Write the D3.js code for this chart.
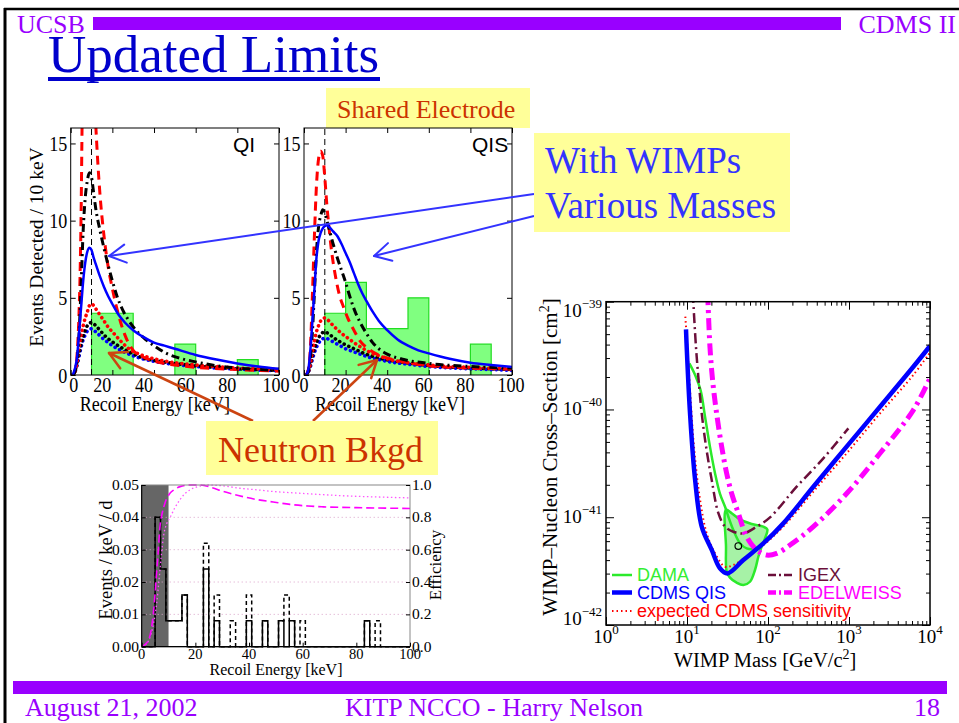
<!DOCTYPE html>
<html><head><meta charset="utf-8">
<script src="https://cdn.jsdelivr.net/npm/d3@7"></script>
<style>
body{margin:0;background:#fff}
svg{display:block}
text{font-family:"Liberation Serif","Times New Roman",serif}
.sans{font-family:"Liberation Sans",Arial,sans-serif}
</style>
</head><body><svg id="c" width="959" height="723"></svg>
<script>
// ================= DATA =================
// Spectrum plots (QI, QIS)
const energyTicks = [0, 20, 40, 60, 80, 100];
const eventTicks = [0, 5, 10, 15];
const histBinWidth = 10;
const qiHistLo = [10, 20, 50, 80];
const qiHistCounts = [4, 4, 2, 1];
const qisHistLo = [10, 20, 30, 40, 50, 80];
const qisHistCounts = [4, 6, 3, 3, 5, 2];

const qiRedDashed = [[1,0],[2,0.2],[3,1.2],[4,4.0],[4.5,6.5],[5,10.5],[5.5,16.5],[6,20],[7,24],[8,26],[9,25.5],[10,23],[11,19.5],[12,16.3],[13,13.8],[14,11.8],[16,9],[18,7],[20,5.6],[22,4.4],[24,3.4],[26,2.6],[30,1.6],[35,1.15],[40,0.9],[50,0.65],[60,0.5],[80,0.35],[100,0.25]];
const qiBlackDashDot = [[1,0],[2,0.2],[3,0.8],[4,2.6],[5,5.8],[6,9.4],[7,11.5],[8,12.6],[9,13.1],[10,12.8],[11,11.8],[12,10.8],[14,9.4],[16,8.2],[18,7.1],[20,6.1],[22,5.2],[25,4.2],[28,3.5],[32,2.8],[36,2.3],[40,1.9],[46,1.4],[52,1.1],[60,0.85],[70,0.6],[80,0.45],[90,0.36],[100,0.3]];
const qiBlueSolid = [[1,0],[2,0.4],[3,1.1],[4,2.7],[5,4.4],[6,6.1],[7,7.3],[8,8.0],[9,8.25],[10,8.1],[11,7.6],[12,7.2],[14,6.4],[16,5.7],[18,5.1],[20,4.6],[23,3.9],[26,3.4],[30,2.9],[35,2.45],[40,2.1],[45,1.9],[50,1.7],[60,1.3],[70,1.0],[80,0.75],[90,0.55],[100,0.4]];
const qiRedDotted = [[1,0],[2,0.2],[3,0.8],[4,1.8],[5,2.6],[6,3.2],[7,3.7],[8,4.1],[9,4.5],[10,4.6],[11,4.5],[12,4.3],[14,3.9],[16,3.5],[18,3.1],[20,2.8],[24,2.2],[28,1.7],[32,1.4],[36,1.2],[40,1.05],[50,0.8],[60,0.65],[70,0.55],[80,0.45],[90,0.4],[100,0.35]];
const qiBlackDotted = [[1,0],[2,0.2],[3,0.7],[4,1.4],[5,2.0],[6,2.5],[7,2.9],[8,3.2],[9,3.35],[10,3.4],[12,3.2],[14,2.9],[16,2.6],[18,2.35],[20,2.15],[24,1.8],[28,1.5],[32,1.25],[36,1.05],[40,0.95],[50,0.75],[60,0.6],[70,0.5],[80,0.4],[90,0.35],[100,0.3]];
const qiBlueDotted = [[1,0],[2,0.2],[3,0.6],[4,1.2],[5,1.8],[6,2.3],[7,2.6],[8,2.85],[9,2.95],[10,3.0],[12,2.8],[14,2.55],[16,2.3],[18,2.1],[20,1.9],[24,1.6],[28,1.35],[32,1.15],[36,1.0],[40,0.88],[50,0.68],[60,0.55],[70,0.45],[80,0.38],[90,0.32],[100,0.28]];

const qisRedDashed = [[1,0],[2,0.3],[3,1.6],[4,5.0],[5,9.0],[6,12.3],[7,14.0],[8,14.5],[9,14.2],[10,12.8],[11,11.0],[12,9.6],[13,8.3],[14,7.3],[15,6.5],[17,5.2],[19,4.4],[21,3.7],[24,2.9],[27,2.2],[30,1.8],[35,1.35],[40,1.1],[50,0.8],[60,0.6],[80,0.45],[100,0.38]];
const qisBlackDashDot = [[1,0],[2,0.2],[3,1.0],[4,2.7],[5,5.3],[6,8.0],[7,9.6],[8,10.3],[9,10.7],[10,10.5],[11,10.0],[12,9.5],[14,8.5],[16,7.6],[18,6.8],[20,6.0],[22,5.1],[24,4.3],[27,3.4],[30,2.7],[33,2.1],[36,1.7],[40,1.35],[48,1.0],[60,0.75],[80,0.55],[100,0.45]];
const qisBlueSolid = [[1,0],[2,0.3],[3,1.5],[4,3.4],[5,5.5],[6,7.6],[7,8.7],[8,9.2],[9,9.5],[10,9.65],[11,9.7],[12,9.6],[14,9.3],[16,9.0],[18,8.5],[20,7.9],[22,7.3],[24,6.6],[26,5.9],[28,5.3],[30,4.8],[33,4.1],[36,3.5],[40,2.9],[45,2.3],[50,1.9],[55,1.6],[60,1.4],[70,1.05],[80,0.8],[90,0.65],[100,0.52]];
const qisRedDotted = [[1,0],[2,0.2],[3,0.7],[4,1.5],[5,2.2],[6,2.8],[7,3.2],[8,3.5],[9,3.65],[10,3.7],[12,3.5],[14,3.2],[16,2.95],[18,2.7],[20,2.5],[24,2.1],[28,1.75],[32,1.45],[36,1.25],[40,1.05],[50,0.8],[60,0.65],[70,0.55],[80,0.5],[90,0.45],[100,0.42]];
const qisBlackDotted = [[1,0],[2,0.2],[3,0.6],[4,1.2],[5,1.7],[6,2.1],[7,2.4],[8,2.6],[9,2.75],[10,2.8],[12,2.65],[14,2.45],[16,2.25],[18,2.1],[20,1.95],[24,1.7],[28,1.45],[32,1.25],[36,1.1],[40,0.98],[50,0.78],[60,0.62],[70,0.52],[80,0.45],[90,0.4],[100,0.36]];
const qisBlueDotted = [[1,0],[2,0.2],[3,0.5],[4,1.0],[5,1.45],[6,1.8],[7,2.05],[8,2.25],[9,2.35],[10,2.4],[12,2.3],[14,2.15],[16,2.0],[18,1.85],[20,1.7],[24,1.5],[28,1.3],[32,1.12],[36,1.0],[40,0.88],[50,0.7],[60,0.55],[70,0.46],[80,0.4],[90,0.35],[100,0.3]];

// Neutron background histogram plot
const nbBinWidth = 2;
const nbSolidLo = [5, 7, 9, 11, 13, 15, 23, 27, 39, 45, 51, 55, 83];
const nbSolidRate = [0.040, 0.024, 0.008, 0.008, 0.008, 0.016, 0.024, 0.008, 0.008, 0.008, 0.008, 0.008, 0.008];
const nbDashedLo = [23, 27, 33, 39, 53, 59, 87];
const nbDashedRate = [0.032, 0.016, 0.008, 0.016, 0.016, 0.008, 0.008];
const effDashed = [[0,0],[1,0.01],[2.5,0.04],[3.5,0.1],[4.3,0.2],[5,0.33],[5.6,0.47],[6.2,0.6],[6.8,0.74],[7.7,0.83],[8.7,0.89],[10.6,0.95],[12,0.97],[14.3,0.99],[18,1.0],[21.7,1.0],[26,0.985],[30.4,0.96],[36,0.935],[42.9,0.91],[49,0.895],[55.3,0.88],[62,0.87],[67.7,0.865],[80,0.86],[100,0.855]];
const effDotted = [[0,0],[1.9,0.02],[3.5,0.08],[4.5,0.15],[5.6,0.27],[6.5,0.42],[7.3,0.56],[8.1,0.68],[9.3,0.76],[10.6,0.8],[12.4,0.86],[14.3,0.91],[16,0.945],[18,0.97],[21,0.99],[24.2,1.0],[30,0.995],[36.6,0.98],[43,0.97],[49,0.96],[58,0.95],[67.7,0.94],[80,0.93],[90,0.925],[100,0.92]];
const cutEnergy = 10;
const rateTicks = [0, 0.01, 0.02, 0.03, 0.04, 0.05];
const effTicks = [0, 0.2, 0.4, 0.6, 0.8, 1.0];

// Limit plot (mass GeV, cross-section cm^2)
const massDecades = [0, 1, 2, 3, 4];
const sigmaDecades = [-42, -41, -40, -39];
const cdmsQIS = [[9.72,5.53e-40],[9.91,3.82e-40],[10.9,9.2e-41],[12.6,2.21e-41],[15.2,8.2e-42],[20.2,4.97e-42],[25.5,3.36e-42],[31.5,3.01e-42],[49.6,4.01e-42],[87.5,5.71e-42],[154.6,8.77e-42],[363,1.92e-41],[935,4.52e-41],[2415,1.06e-40],[6225,2.49e-40],[10000,3.88e-40]];
const expectedCDMS = [[9.53,7.26e-40],[10.1,3.82e-40],[10.9,1.51e-40],[12.2,4.52e-41],[14.5,1.45e-41],[17.5,7.08e-42],[22.2,4.62e-42],[29.5,3.47e-42],[37.3,3.6e-42],[54.5,4.3e-42],[87.5,5.52e-42],[154.6,8.2e-42],[363,1.73e-41],[935,3.92e-41],[2415,9.2e-41],[6225,2.09e-40],[10000,3.37e-40]];
const damaLine = [[10.7,2.68e-40],[12.6,2.09e-40],[14.7,1.51e-40],[16.7,8.57e-41],[19.2,4.52e-41],[22.2,2.55e-41],[25.5,1.66e-41],[29.5,1.25e-41],[32.4,1.01e-41],[37.3,7.61e-42],[45.1,5.73e-42],[54.5,5.14e-42],[72.4,5.14e-42],[87.5,5.64e-42]];
const damaRegion = [[30.3,1.17e-41],[35.6,1.09e-41],[45.1,9.55e-42],[62.8,8.65e-42],[87.5,8.17e-42],[98.1,7.71e-42],[91.8,6.37e-42],[83.5,5.33e-42],[76.0,4.30e-42],[69.1,3.24e-42],[59.9,2.52e-42],[49.6,2.35e-42],[41.0,2.47e-42],[33.9,2.75e-42],[30.9,3.13e-42],[30.3,5.33e-42]];
const igex = [[11.8,1.2e-39],[12.9,3.82e-40],[13.8,2.01e-40],[15.2,9.2e-41],[17.2,4.52e-41],[20.2,2.21e-41],[24.4,1.09e-41],[29.5,8.17e-42],[37.3,7.34e-42],[49.6,7.08e-42],[72.4,8.17e-42],[105.9,9.97e-42],[226,1.92e-41],[482,3.52e-41],[982,6.68e-41]];
const edelweiss = [[18.0,1.2e-39],[19.2,3.82e-40],[20.7,1.87e-40],[23.2,9.2e-41],[26.8,4.52e-41],[30.9,2.55e-41],[35.6,1.66e-41],[43.0,1.09e-41],[54.5,6.59e-42],[72.4,4.97e-42],[96.3,4.46e-42],[128,4.62e-42],[187,5.52e-42],[363,8.17e-42],[935,1.66e-41],[2415,3.92e-41],[6225,9.88e-41],[10000,1.95e-40]];
const damaBest = [[43.0, 5.4e-42]];
const legendLeft = ["DAMA", "CDMS QIS", "expected CDMS sensitivity"];
const legendRight = ["IGEX", "EDELWEISS"];

// ================= DRAWING =================
const svg = d3.select("#c");
const PURPLE = "#9900ff", YELLOW = "#ffff99", ORANGE = "#cc3300";

function squish(sel, k) {
  sel.each(function () {
    const L = this.getComputedTextLength();
    d3.select(this).attr("textLength", L * k).attr("lengthAdjust", "spacingAndGlyphs");
  });
}

// slide frame
svg.append("line").attr("x1", 4).attr("x2", 959).attr("y1", 9).attr("y2", 9).attr("stroke", "#000").attr("stroke-width", 2.5);
svg.append("line").attr("x1", 5).attr("x2", 5).attr("y1", 8).attr("y2", 723).attr("stroke", "#000").attr("stroke-width", 3);
svg.append("text").attr("x", 17).attr("y", 33).attr("font-size", 26).attr("fill", PURPLE).text("UCSB");
svg.append("rect").attr("x", 93).attr("y", 17).attr("width", 748).attr("height", 13).attr("fill", PURPLE);
svg.append("text").attr("x", 956).attr("y", 33).attr("font-size", 26).attr("fill", PURPLE).attr("text-anchor", "end").text("CDMS II");
svg.append("text").attr("x", 48).attr("y", 72).attr("font-size", 53).attr("fill", "#0000cc").text("Updated Limits");
svg.append("rect").attr("x", 48).attr("y", 77).attr("width", 332).attr("height", 4).attr("fill", "#0000cc");

// Shared electrode label (behind QIS plot)
svg.append("rect").attr("x", 326).attr("y", 88).attr("width", 204).attr("height", 40).attr("fill", YELLOW);
svg.append("text").attr("x", 337).attr("y", 118).attr("font-size", 26).attr("fill", ORANGE).text("Shared Electrode");

// ---------- spectrum plots ----------
const evY = d3.scaleLinear().domain([0, 16]).range([375, 128]);
const curveStyles = [
  { color: "#ff0000", w: 3, dash: "9,6", cap: "butt" },
  { color: "#000000", w: 3, dash: "8,4,2,4", cap: "butt" },
  { color: "#0000ff", w: 2.5, dash: null, cap: "butt" },
  { color: "#ff0000", w: 3.6, dash: "0.1,5", cap: "round" },
  { color: "#000000", w: 3.6, dash: "0.1,5", cap: "round" },
  { color: "#0000ff", w: 3.6, dash: "0.1,5", cap: "round" }
];
function spectrumPlot(id, x0, x1, curves, hLo, hCounts, name, nameX, labelShift) {
  const x = d3.scaleLinear().domain([0, 100]).range([x0, x1]);
  const g = svg.append("g");
  g.append("rect").attr("x", x0).attr("y", 128).attr("width", x1 - x0).attr("height", 247).attr("fill", "#fff");
  g.append("clipPath").attr("id", id).append("rect").attr("x", x0).attr("y", 128).attr("width", x1 - x0).attr("height", 247);
  // histogram
  const p = d3.path();
  hLo.forEach((lo, i) => {
    if (i === 0 || lo !== hLo[i - 1] + histBinWidth) {
      if (i > 0) p.lineTo(x(hLo[i - 1] + histBinWidth), evY(0));
      p.moveTo(x(lo), evY(0));
    }
    p.lineTo(x(lo), evY(hCounts[i]));
    p.lineTo(x(lo + histBinWidth), evY(hCounts[i]));
  });
  p.lineTo(x(hLo[hLo.length - 1] + histBinWidth), evY(0));
  g.append("path").attr("d", p.toString()).attr("fill", "#80ff80").attr("stroke", "#22dd22").attr("stroke-width", 1.2);
  // threshold
  g.append("line").attr("x1", x(10)).attr("x2", x(10)).attr("y1", evY(0)).attr("y2", 128)
    .attr("stroke", "#000").attr("stroke-width", 1).attr("stroke-dasharray", "6,4");
  const line = d3.line().x(d => x(d[0])).y(d => evY(d[1])).curve(d3.curveMonotoneX);
  const cg = g.append("g").attr("clip-path", `url(#${id})`);
  const order = [5, 4, 3, 0, 1, 2];
  order.forEach(i => {
    const s = curveStyles[i];
    cg.append("path").attr("d", line(curves[i])).attr("fill", "none").attr("stroke", s.color)
      .attr("stroke-width", s.w).attr("stroke-dasharray", s.dash).attr("stroke-linecap", s.cap);
  });
  // frame & ticks
  g.append("rect").attr("x", x0).attr("y", 128).attr("width", x1 - x0).attr("height", 247).attr("fill", "none").attr("stroke", "#000").attr("stroke-width", 1);
  const ax = [
    d3.axisBottom(x).tickValues(energyTicks).tickSize(-5), d3.axisTop(x).tickValues(energyTicks).tickSize(-5),
    d3.axisLeft(evY).tickValues(eventTicks).tickSize(-5), d3.axisRight(evY).tickValues(eventTicks).tickSize(-5)
  ];
  const tr = [`translate(0,375)`, `translate(0,128)`, `translate(${x0},0)`, `translate(${x1},0)`];
  ax.forEach((a, i) => {
    const ag = g.append("g").attr("transform", tr[i]).call(a.tickFormat("").tickSizeOuter(0));
    ag.select(".domain").remove();
    ag.selectAll("line").attr("stroke", "#000");
  });
  const xl = g.selectAll(null).data(energyTicks).enter().append("text")
    .attr("x", (d, i) => x(d) + labelShift[i]).attr("y", 392).attr("text-anchor", "middle").attr("font-size", 21).text(d => d);
  squish(xl, 0.86);
  const yl = g.selectAll(null).data(eventTicks).enter().append("text")
    .attr("x", x0 - 3.5).attr("y", d => evY(d) + 7.5).attr("text-anchor", "end").attr("font-size", 21).text(d => d);
  squish(yl, 0.86);
  const lab = g.append("text").attr("x", (x0 + x1) / 2 - 20 + (id === "cqi" ? 0 : 2)).attr("y", 411).attr("text-anchor", "middle").attr("font-size", 21).text("Recoil Energy [keV]");
  squish(lab, 0.86);
  g.append("text").attr("class", "sans").attr("x", nameX).attr("y", 152).attr("font-size", 21).text(name);
}
spectrumPlot("cqi", 70.7, 279, [qiRedDashed, qiBlackDashDot, qiBlueSolid, qiRedDotted, qiBlackDotted, qiBlueDotted],
  qiHistLo, qiHistCounts, "QI", 233, [3, -10, -10, -10, -10, -3]);
spectrumPlot("cqis", 304, 512, [qisRedDashed, qisBlackDashDot, qisBlueSolid, qisRedDotted, qisBlackDotted, qisBlueDotted],
  qisHistLo, qisHistCounts, "QIS", 472, [0, -5, -5, -5, -5, -1]);
svg.append("text").attr("transform", "translate(43,247) rotate(-90)").attr("text-anchor", "middle").attr("font-size", 19.5).text("Events Detected / 10 keV");

// ---------- neutron background plot ----------
{
  const hx = d3.scaleLinear().domain([0, 100]).range([141.7, 410]);
  const hy = d3.scaleLinear().domain([0, 0.05]).range([646.7, 485]);
  const ey = d3.scaleLinear().domain([0, 1]).range([646.7, 485]);
  const g = svg.append("g");
  g.append("rect").attr("x", hx(0)).attr("y", 485).attr("width", hx(cutEnergy) - hx(0)).attr("height", 161.7).attr("fill", "#666");
  g.selectAll(null).data(effTicks.slice(1, 5)).enter().append("line")
    .attr("x1", hx(0)).attr("x2", hx(100)).attr("y1", d => ey(d)).attr("y2", d => ey(d))
    .attr("stroke", "#d9a0c8").attr("stroke-width", 1).attr("stroke-dasharray", "1,3");
  const solidMap = new Map(nbSolidLo.map((lo, i) => [lo, nbSolidRate[i]]));
  const dashedMap = new Map(solidMap);
  nbDashedLo.forEach((lo, i) => dashedMap.set(lo, Math.max(nbDashedRate[i], solidMap.get(lo) || 0)));
  function steps(m) {
    const pts = [[0, 0]];
    for (let lo = 1; lo < 100; lo += nbBinWidth) pts.push([lo, m.get(lo) || 0]);
    pts.push([100, pts[pts.length - 1][1]]);
    return pts;
  }
  const sl = d3.line().x(d => hx(d[0])).y(d => hy(d[1])).curve(d3.curveStepAfter);
  g.append("path").attr("d", sl(steps(dashedMap))).attr("fill", "none").attr("stroke", "#000").attr("stroke-width", 1.5).attr("stroke-dasharray", "4,3");
  g.append("path").attr("d", sl(steps(solidMap))).attr("fill", "none").attr("stroke", "#000").attr("stroke-width", 1.5);
  const el = d3.line().x(d => hx(d[0])).y(d => ey(d[1])).curve(d3.curveMonotoneX);
  g.append("path").attr("d", el(effDotted)).attr("fill", "none").attr("stroke", "#ff55ff").attr("stroke-width", 1.3).attr("stroke-dasharray", "1.5,2.5");
  g.append("path").attr("d", el(effDashed)).attr("fill", "none").attr("stroke", "#ff00ff").attr("stroke-width", 1.6).attr("stroke-dasharray", "8,4");
  g.append("rect").attr("x", hx(0)).attr("y", 485).attr("width", hx(100) - hx(0)).attr("height", 161.7).attr("fill", "none").attr("stroke", "#888").attr("stroke-width", 1);
  g.append("line").attr("x1", hx(0)).attr("x2", hx(0)).attr("y1", 485).attr("y2", 646.7).attr("stroke", "#000").attr("stroke-width", 1.2);
  g.append("line").attr("x1", hx(0)).attr("x2", hx(100)).attr("y1", 646.7).attr("y2", 646.7).attr("stroke", "#000").attr("stroke-width", 1.2);
  const axs = [
    [d3.axisLeft(hy).tickValues(rateTicks), `translate(${hx(0)},0)`],
    [d3.axisRight(ey).tickValues(effTicks), `translate(${hx(100)},0)`],
    [d3.axisBottom(hx).tickValues(energyTicks), `translate(0,646.7)`]
  ];
  axs.forEach(([a, t]) => {
    const ag = g.append("g").attr("transform", t).call(a.tickSize(-4).tickSizeOuter(0).tickFormat(""));
    ag.select(".domain").remove();
    ag.selectAll("line").attr("stroke", "#000");
  });
  g.selectAll(null).data(rateTicks).enter().append("text").attr("x", 139).attr("y", d => hy(d) + 5)
    .attr("text-anchor", "end").attr("font-size", 15.5).text(d => d3.format(".2f")(d));
  g.selectAll(null).data(effTicks).enter().append("text").attr("x", 412).attr("y", d => ey(d) + 5)
    .attr("font-size", 15.5).text(d => d3.format(".1f")(d));
  g.selectAll(null).data(energyTicks).enter().append("text").attr("x", d => hx(d)).attr("y", 658.5)
    .attr("text-anchor", "middle").attr("font-size", 14.5).text(d => d);
  g.append("text").attr("x", 276).attr("y", 674.5).attr("text-anchor", "middle").attr("font-size", 16).text("Recoil Energy [keV]");
  g.append("text").attr("transform", "translate(112,560) rotate(-90)").attr("text-anchor", "middle").attr("font-size", 18.5).text("Events / keV / d");
  g.append("text").attr("transform", "translate(441,565) rotate(-90)").attr("text-anchor", "middle").attr("font-size", 17).text("Efficiency");
}

// ---------- limit plot ----------
{
  const mx = d3.scaleLog().domain([1, 1e4]).range([606, 930]);
  const sy = d3.scaleLog().domain([1e-42, 1e-39]).range([625, 301.7]);
  const g = svg.append("g");
  g.append("rect").attr("x", 532).attr("y", 676).attr("width", 418).attr("height", 7).attr("fill", "#fff");
  g.append("clipPath").attr("id", "clim").append("rect").attr("x", 606).attr("y", 301.7).attr("width", 324).attr("height", 323.3);
  const cg = g.append("g").attr("clip-path", "url(#clim)");
  const lnC = d3.line().x(d => mx(d[0])).y(d => sy(d[1])).curve(d3.curveCatmullRomClosed);
  const lnR = d3.line().x(d => mx(d[0])).y(d => sy(d[1])).curve(d3.curveCatmullRom);
  cg.append("path").attr("d", lnC(damaRegion)).attr("fill", "#a6f2a6").attr("stroke", "#2bea2b").attr("stroke-width", 2.5);
  cg.append("path").attr("d", lnR(damaLine)).attr("fill", "none").attr("stroke", "#2bea2b").attr("stroke-width", 2.5);
  cg.append("path").attr("d", lnR(expectedCDMS)).attr("fill", "none").attr("stroke", "#ff0000").attr("stroke-width", 2).attr("stroke-dasharray", "1.5,3");
  cg.append("path").attr("d", lnR(igex)).attr("fill", "none").attr("stroke", "#6b0f3a").attr("stroke-width", 2.5).attr("stroke-dasharray", "10,4,2,4");
  cg.append("path").attr("d", lnR(edelweiss)).attr("fill", "none").attr("stroke", "#ff00ff").attr("stroke-width", 5).attr("stroke-dasharray", "12,5,3,5");
  cg.append("path").attr("d", lnR(cdmsQIS)).attr("fill", "none").attr("stroke", "#0000ff").attr("stroke-width", 4.5).attr("stroke-linejoin", "round");
  cg.selectAll(null).data(damaBest).enter().append("circle").attr("cx", d => mx(d[0])).attr("cy", d => sy(d[1])).attr("r", 3.3)
    .attr("fill", "none").attr("stroke", "#000").attr("stroke-width", 1.2);
  g.append("rect").attr("x", 606).attr("y", 301.7).attr("width", 324).attr("height", 323.3).attr("fill", "none").attr("stroke", "#000").attr("stroke-width", 1.5);
  const majM = massDecades.map(d => Math.pow(10, d));
  const minM = [];
  massDecades.slice(0, -1).forEach(d => { for (let k = 2; k < 10; k++) minM.push(k * Math.pow(10, d)); });
  const majS = sigmaDecades.map(d => Math.pow(10, d));
  const minS = [];
  sigmaDecades.slice(0, -1).forEach(d => { for (let k = 2; k < 10; k++) minS.push(k * Math.pow(10, d)); });
  const axes = [
    [d3.axisBottom(mx), majM, 8, "translate(0,625)"], [d3.axisBottom(mx), minM, 4, "translate(0,625)"],
    [d3.axisTop(mx), majM, 8, "translate(0,301.7)"], [d3.axisTop(mx), minM, 4, "translate(0,301.7)"],
    [d3.axisLeft(sy), majS, 8, "translate(606,0)"], [d3.axisLeft(sy), minS, 4, "translate(606,0)"],
    [d3.axisRight(sy), majS, 8, "translate(930,0)"], [d3.axisRight(sy), minS, 4, "translate(930,0)"]
  ];
  axes.forEach(([a, v, s, t]) => {
    const ag = g.append("g").attr("transform", t).call(a.tickValues(v).tickSize(-s).tickSizeOuter(0).tickFormat(""));
    ag.select(".domain").remove();
    ag.selectAll("line").attr("stroke", "#000");
  });
  massDecades.forEach(d => {
    const t = g.append("text").attr("x", mx(Math.pow(10, d))).attr("y", 643).attr("text-anchor", "middle").attr("font-size", 19);
    t.append("tspan").text("10");
    t.append("tspan").attr("dy", -9).attr("font-size", 13).text(d);
  });
  sigmaDecades.forEach(d => {
    const off = d === -39 ? 15 : (d === -42 ? 0 : 6);
    const t = g.append("text").attr("x", 602).attr("y", sy(Math.pow(10, d)) + off).attr("text-anchor", "end").attr("font-size", 19);
    t.append("tspan").text("10");
    t.append("tspan").attr("dy", -9).attr("font-size", 13).text("\u2212" + (-d));
  });
  const xl = g.append("text").attr("x", 765).attr("y", 667).attr("text-anchor", "middle").attr("font-size", 20.5);
  xl.append("tspan").text("WIMP Mass [GeV/c");
  xl.append("tspan").attr("dy", -8).attr("font-size", 14).text("2");
  xl.append("tspan").attr("dy", 8).text("]");
  const yl = g.append("text").attr("transform", "translate(557,457) rotate(-90)").attr("text-anchor", "middle").attr("font-size", 21);
  yl.append("tspan").text("WIMP\u2013Nucleon Cross\u2013Section [cm");
  yl.append("tspan").attr("dy", -8).attr("font-size", 14).text("2");
  yl.append("tspan").attr("dy", 8).text("]");
  // legend
  const lg = g.append("g").attr("class", "sans");
  const leftStyles = [
    { c: "#2bea2b", w: 2.5, d: null, t: "#33ee33" },
    { c: "#0000ff", w: 4.5, d: null, t: "#0000ff" },
    { c: "#ff0000", w: 2, d: "1.5,3", t: "#ff0000" }
  ];
  const rightStyles = [
    { c: "#6b0f3a", w: 2.5, d: "8,3,2,3", t: "#6b0f3a" },
    { c: "#ff00ff", w: 4.5, d: "8,3,2,3", t: "#ff00ff" }
  ];
  const rowsY = [575, 592.5, 611];
  legendLeft.forEach((name, i) => {
    const s = leftStyles[i];
    lg.append("line").attr("x1", 612).attr("x2", 632).attr("y1", rowsY[i]).attr("y2", rowsY[i]).attr("stroke", s.c).attr("stroke-width", s.w).attr("stroke-dasharray", s.d);
    lg.append("text").attr("class", "sans").attr("x", 637).attr("y", rowsY[i] + 6).attr("font-size", 18).attr("fill", s.t).text(name);
  });
  legendRight.forEach((name, i) => {
    const s = rightStyles[i];
    lg.append("line").attr("x1", 768).attr("x2", 793).attr("y1", rowsY[i]).attr("y2", rowsY[i]).attr("stroke", s.c).attr("stroke-width", s.w).attr("stroke-dasharray", s.d);
    lg.append("text").attr("class", "sans").attr("x", 798).attr("y", rowsY[i] + 6).attr("font-size", 18).attr("fill", s.t).text(name);
  });
}

// footer
svg.append("rect").attr("x", 13).attr("y", 681).attr("width", 934).attr("height", 13).attr("fill", PURPLE);
svg.append("text").attr("x", 25).attr("y", 716).attr("font-size", 26).attr("fill", PURPLE).text("August 21, 2002");
svg.append("text").attr("x", 345).attr("y", 716).attr("font-size", 26).attr("fill", PURPLE).text("KITP NCCO - Harry Nelson");
svg.append("text").attr("x", 940).attr("y", 716).attr("font-size", 26).attr("fill", PURPLE).attr("text-anchor", "end").text("18");

// ---------- annotations ----------
function arrow(x1, y1, x2, y2, color, w) {
  svg.append("line").attr("x1", x1).attr("y1", y1).attr("x2", x2).attr("y2", y2).attr("stroke", color).attr("stroke-width", w);
  const a = Math.atan2(y1 - y2, x1 - x2);
  [0.5, -0.5].forEach(da => {
    svg.append("line").attr("x1", x2).attr("y1", y2)
      .attr("x2", x2 + 19 * Math.cos(a + da)).attr("y2", y2 + 19 * Math.sin(a + da))
      .attr("stroke", color).attr("stroke-width", w).attr("stroke-linecap", "round");
  });
}
arrow(534, 194, 109, 256, "#3333ff", 2);
arrow(534, 216, 374, 256, "#3333ff", 2);
arrow(253, 421, 109, 353, "#cc4411", 2.5);
arrow(313, 421, 377, 360, "#cc4411", 2.5);

svg.append("rect").attr("x", 534).attr("y", 133).attr("width", 256).attr("height", 99).attr("fill", YELLOW);
svg.append("text").attr("x", 545).attr("y", 173).attr("font-size", 37).attr("fill", "#3333ff").text("With WIMPs");
svg.append("text").attr("x", 545).attr("y", 218).attr("font-size", 37).attr("fill", "#3333ff").text("Various Masses");
svg.append("rect").attr("x", 206).attr("y", 421).attr("width", 232).attr("height", 54).attr("fill", YELLOW);
svg.append("text").attr("x", 218).attr("y", 462).attr("font-size", 36).attr("fill", ORANGE).text("Neutron Bkgd");
</script>
</body></html>
